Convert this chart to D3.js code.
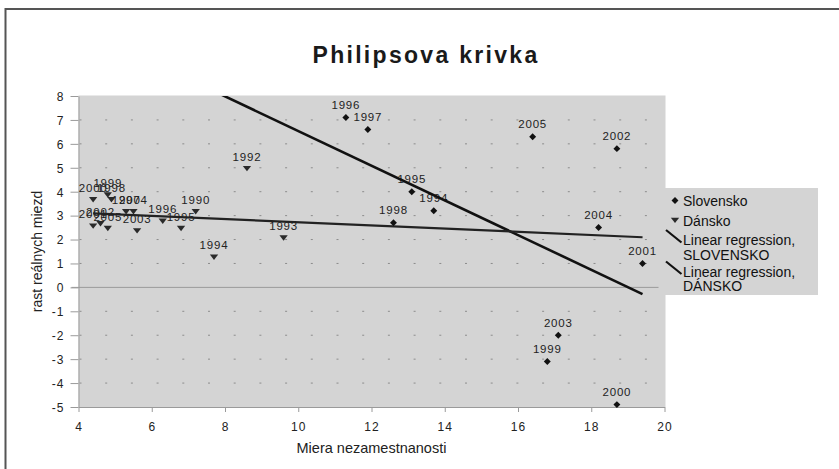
<!DOCTYPE html>
<html>
<head>
<meta charset="utf-8">
<script src="https://cdn.jsdelivr.net/npm/d3@7"></script>
<style>
  body { margin: 0; background: #fff; }
  svg { display: block; font-family: "Liberation Sans", Arial, sans-serif; }
  .axis path, .axis line { stroke: #9a9a9a; }
  .axis text { font-size: 12px; letter-spacing: 1px; fill: #222; }
</style>
</head>
<body>
<svg id="viz" width="839" height="469"></svg>
<script>
"use strict";
// Slovensko: unemployment (x) vs real wage growth (y)
const skYears = [1994, 1995, 1996, 1997, 1998, 1999, 2000, 2001, 2002, 2003, 2004, 2005];
const skUnemp = [13.7, 13.1, 11.3, 11.9, 12.6, 16.8, 18.7, 19.4, 18.7, 17.1, 18.2, 16.4];
const skWages = [3.2, 4.0, 7.1, 6.6, 2.7, -3.1, -4.9, 1.0, 5.8, -2.0, 2.5, 6.3];

// Dánsko
const dkYears = [1990, 1992, 1993, 1994, 1995, 1996, 1997, 1998, 1999, 2000, 2001, 2002, 2003, 2004, 2005];
const dkUnemp = [7.2, 8.6, 9.6, 7.7, 6.8, 6.3, 5.3, 4.9, 4.8, 4.4, 4.4, 4.6, 5.6, 5.5, 4.8];
const dkWages = [3.2, 5.0, 2.1, 1.3, 2.5, 2.8, 3.2, 3.7, 3.9, 3.7, 2.6, 2.7, 2.4, 3.2, 2.5];

const xTicks = [4, 6, 8, 10, 12, 14, 16, 18, 20];
const yTicks = [-5, -4, -3, -2, -1, 0, 1, 2, 3, 4, 5, 6, 7, 8];
const legendLabels = ["Slovensko", "Dánsko", ["Linear regression,", "SLOVENSKO"], ["Linear regression,", "DÁNSKO"]];

let svg = d3.select("#viz");
let margin = { top: 96, left: 78.5, bottom: 407, right: 664.5 };

let xScale = d3.scaleLinear().domain([4, 20]).range([margin.left, margin.right]);
let yScale = d3.scaleLinear().domain([-5, 8]).range([margin.bottom, margin.top]);

// outer frame (runs past the window on the right and bottom)
svg.append("rect")
    .attr("x", 5.5).attr("y", 9)
    .attr("width", 900).attr("height", 500)
    .attr("fill", "none").attr("stroke", "#555").attr("stroke-width", 2);

svg.append("text")
    .attr("x", 426).attr("y", 63)
    .attr("text-anchor", "middle")
    .style("font-size", "23px").style("font-weight", "bold")
    .style("letter-spacing", "2.3px").attr("fill", "#1a1a1a")
    .text("Philipsova krivka");

// plot background
svg.append("rect")
    .attr("x", margin.left).attr("y", margin.top - 0.5)
    .attr("width", margin.right - margin.left + 1)
    .attr("height", margin.bottom - margin.top + 0.5)
    .attr("fill", "#d4d4d4");

// legend box
svg.append("rect")
    .attr("x", 665).attr("y", 188).attr("width", 153).attr("height", 107)
    .attr("fill", "#d4d4d4");

// dotted gridlines
svg.append("g").selectAll("line")
    .data(yTicks.filter(v => v !== 0 && v !== -5 && v !== 8))
    .enter().append("line")
    .attr("x1", xScale(4) + 1).attr("x2", xScale(20) - 6)
    .attr("y1", d => yScale(d)).attr("y2", d => yScale(d))
    .attr("stroke", "#8c8c8c").attr("stroke-width", 1)
    .style("stroke-dasharray", "2, 23.7");

// zero line
svg.append("line")
    .attr("x1", xScale(4) - 7).attr("x2", xScale(20) - 6)
    .attr("y1", yScale(0)).attr("y2", yScale(0))
    .attr("stroke", "#9a9a9a");

svg.append("g")
    .attr("class", "x axis")
    .attr("transform", `translate(0, ${margin.bottom})`)
    .call(d3.axisBottom(xScale).tickValues(xTicks).tickFormat(d => String(d))
        .tickSize(5).tickPadding(10).tickSizeOuter(0));

svg.append("g")
    .attr("class", "y axis")
    .attr("transform", `translate(${margin.left}, 0)`)
    .call(d3.axisLeft(yScale).tickValues(yTicks).tickFormat(d => String(d))
        .tickSize(8).tickPadding(6).tickSizeOuter(0));

svg.selectAll(".y.axis text").attr("dy", "0.36em");

svg.append("text")
    .attr("x", (margin.left + margin.right) / 2).attr("y", 453)
    .attr("text-anchor", "middle")
    .style("font-size", "14.5px").attr("fill", "#222")
    .text("Miera nezamestnanosti");

svg.append("text")
    .attr("transform", `translate(42, ${(margin.top + margin.bottom) / 2}) rotate(-90)`)
    .attr("text-anchor", "middle")
    .style("font-size", "14px").attr("fill", "#222")
    .text("rast reálnych miezd");

let sk = skYears.map((y, i) => ({ year: y, x: skUnemp[i], y: skWages[i] }));
let dk = dkYears.map((y, i) => ({ year: y, x: dkUnemp[i], y: dkWages[i] }));

// point labels (drawn under the lines, as in the original)
let labels = svg.append("g")
    .style("font-size", "11.5px").style("letter-spacing", "0.8px")
    .attr("fill", "#222").attr("text-anchor", "middle");
labels.selectAll(".sk").data(sk).enter().append("text")
    .attr("x", d => xScale(d.x)).attr("y", d => yScale(d.y) - 8.5)
    .text(d => d.year);
labels.selectAll(".dk").data(dk).enter().append("text")
    .attr("x", d => xScale(d.x)).attr("y", d => yScale(d.y) - 7)
    .text(d => d.year);

// least squares trend lines over the full x range of both series
function fit(pts) {
    let mx = d3.mean(pts, d => d.x), my = d3.mean(pts, d => d.y);
    let sxy = d3.sum(pts, d => (d.x - mx) * (d.y - my));
    let sxx = d3.sum(pts, d => (d.x - mx) * (d.x - mx));
    let b = sxy / sxx;
    return { b: b, a: my - b * mx };
}
let allX = skUnemp.concat(dkUnemp);
let lo = d3.min(allX), hi = d3.max(allX);

svg.append("clipPath").attr("id", "plotClip")
    .append("rect")
    .attr("x", margin.left).attr("y", margin.top)
    .attr("width", margin.right - margin.left).attr("height", margin.bottom - margin.top);

let trends = [
    { fit: fit(sk), color: "#111", width: 2.6 },
    { fit: fit(dk), color: "#222", width: 2.2 }
];
svg.append("g").attr("clip-path", "url(#plotClip)")
    .selectAll("line").data(trends).enter().append("line")
    .attr("x1", xScale(lo)).attr("x2", xScale(hi))
    .attr("y1", d => yScale(d.fit.a + d.fit.b * lo))
    .attr("y2", d => yScale(d.fit.a + d.fit.b * hi))
    .attr("stroke", d => d.color).attr("stroke-width", d => d.width);

let diamond = d3.symbol().type(d3.symbolSquare).size(24);
let triangle = d3.symbol().type(d3.symbolTriangle).size(30);

svg.append("g").selectAll("path").data(sk).enter().append("path")
    .attr("d", diamond)
    .attr("transform", d => `translate(${xScale(d.x)}, ${yScale(d.y)}) rotate(45)`)
    .attr("fill", "#111");

svg.append("g").selectAll("path").data(dk).enter().append("path")
    .attr("d", triangle)
    .attr("transform", d => `translate(${xScale(d.x)}, ${yScale(d.y)}) rotate(180) scale(1, 0.75)`)
    .attr("fill", "#2a2a2a");

// legend
let legend = svg.append("g").style("font-size", "14px").attr("fill", "#111");
legend.append("path").attr("d", diamond)
    .attr("transform", "translate(675, 200.5) rotate(45)").attr("fill", "#111");
legend.append("text").attr("x", 683).attr("y", 205.5).text(legendLabels[0]);
legend.append("path").attr("d", triangle)
    .attr("transform", "translate(675, 219.5) rotate(180) scale(1, 0.75)").attr("fill", "#2a2a2a");
legend.append("text").attr("x", 683).attr("y", 225.5).text(legendLabels[1]);
[legendLabels[2], legendLabels[3]].forEach((lines, i) => {
    let y0 = 230 + i * 31.5;
    legend.append("line")
        .attr("x1", 666).attr("y1", y0).attr("x2", 681.5).attr("y2", y0 + 12.5)
        .attr("stroke", "#111").attr("stroke-width", 2.2);
    legend.append("text").attr("x", 683).attr("y", y0 + 15).text(lines[0]);
    legend.append("text").attr("x", 683).attr("y", y0 + 29.5).text(lines[1]);
});
</script>
</body>
</html>
